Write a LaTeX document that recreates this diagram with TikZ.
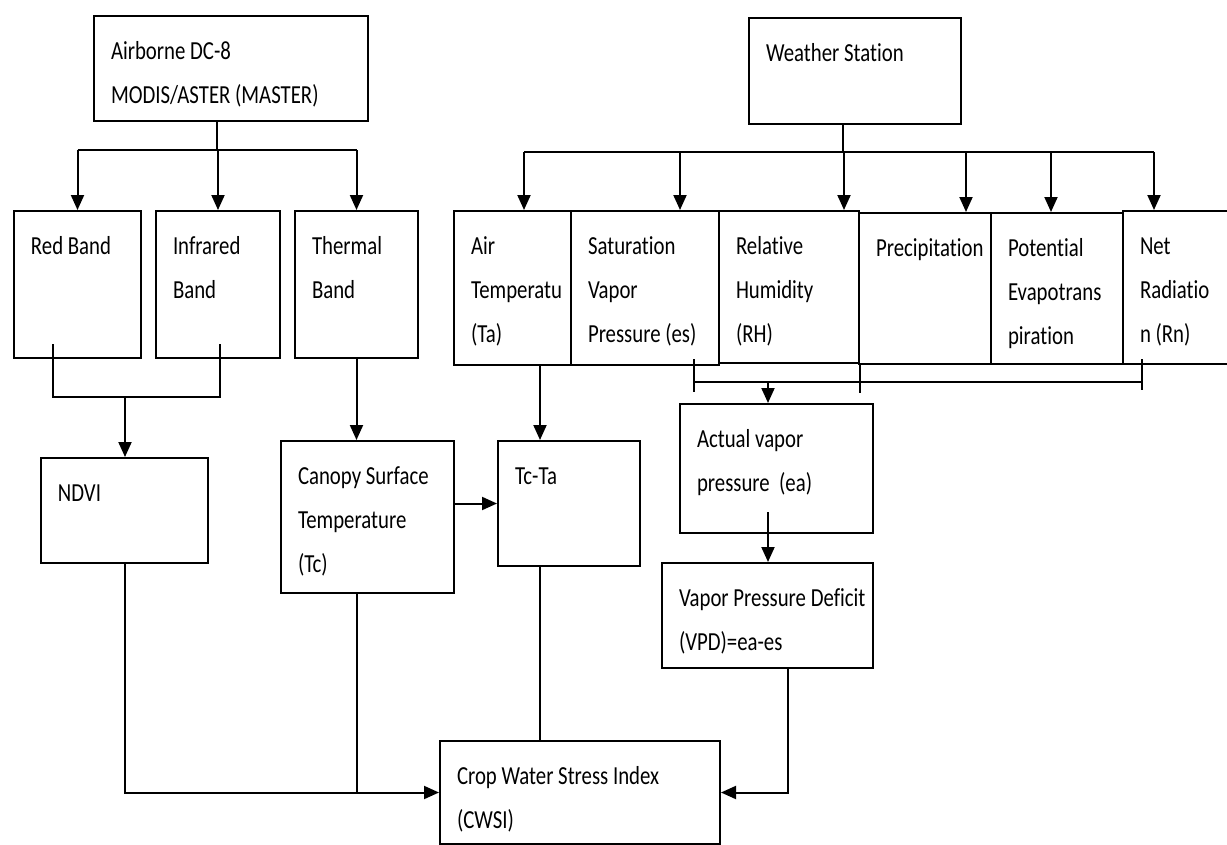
\documentclass[tikz,border=0pt]{standalone}
\usepackage{fontspec}
\setmainfont{Carlito}[FakeStretch=0.8,Ligatures=NoCommon,RawFeature={-liga;-clig;-calt;-dlig;-rlig;-ccmp;-hlig}]
\usetikzlibrary{arrows.meta,calc}
% text set at the top left of a block: width, height, text
\newcommand{\blocktext}[3]{\hspace*{17pt}\parbox[t][#2pt][t]{\dimexpr#1pt-17pt\relax}{\raggedright\rule{0pt}{43pt}#3}}

\begin{document}
\begin{tikzpicture}[
  x=1pt,y=-1pt,
  block/.style={draw,line width=2pt,anchor=north west,inner sep=0pt,
    font={\fontsize{26pt}{44pt}\selectfont}},
  wire/.style={line width=2pt},
  link/.style={-{Triangle[length=15pt,width=13pt]},line width=2pt}
]
\fill[white] (0,0) rectangle (1227,844);
\useasboundingbox (0,0) rectangle (1227,844);

% airborne sensor side
\node[block] (air) at (93,15) {\blocktext{274}{105}{Airborne DC-8\\MODIS/ASTER (MASTER)}};
\node[block] (red) at (13,210) {\blocktext{127}{147}{Red Band}};
\node[block] (ir) at (155,210) {\blocktext{124}{147}{Infrared\\Band}};
\node[block] (thm) at (294,210) {\blocktext{123}{147}{Thermal\\Band}};
\node[block] (ndvi) at (40,457) {\blocktext{167}{105}{NDVI}};
\node[block] (cst) at (280,440) {\blocktext{173}{152}{Canopy Surface\\Temperature\\(Tc)}};
\node[block] (tcta) at (497,440) {\blocktext{142}{125}{Tc-Ta}};
\node[block] (cwsi) at (439,740) {\blocktext{280}{103}{Crop Water Stress Index\\(CWSI)}};

% weather station side
\node[block] (ws) at (748,17) {\blocktext{212}{106}{Weather Station}};
\node[block] (at) at (453,210) {\blocktext{117}{154}{Air\\Temperatu\\(Ta)}};
\node[block] (svp) at (570,210) {\blocktext{148}{154}{Saturation\\Vapor\\Pressure (es)}};
\node[block] (rh) at (718,210) {\blocktext{140}{152}{Relative\\Humidity\\(RH)}};
\node[block] (prc) at (858,212) {\blocktext{132}{151}{Precipitation}};
\node[block] (pet) at (990,212) {\blocktext{132}{151}{Potential\\Evapotrans\\piration}};
\node[block] (rn) at (1122,210) {\blocktext{108}{153}{Net\\Radiatio\\n (Rn)}};
\node[block] (ava) at (679,403) {\blocktext{193}{129}{Actual vapor\\pressure\ \ (ea)}};
\node[block] (vpd) at (661,562) {\blocktext{211}{105}{Vapor Pressure Deficit\\(VPD)=ea-es}};

% junctions
\coordinate (lj) at (217,150);
\coordinate (rj) at (843,152);
\coordinate (bj) at (125,397);
\coordinate (vj) at (768,382);

% airborne branches
\draw[wire] (air.south -| lj) -- (lj);
\draw[wire] (red.north |- lj) -- (thm.north |- lj);
\foreach \n in {red,ir,thm}
  \draw[link] (\n.north |- lj) -- (\n.north);

\coordinate (rdb) at ([xshift=40pt,yshift=15pt]red.south west);
\coordinate (irb) at ([xshift=2pt,yshift=15pt]ir.south);
\draw[wire] (rdb) |- (bj) -| (irb);
\draw[link] (bj) -- (bj |- ndvi.north);
\draw[link] (thm.south) -- (thm.south |- cst.north);
\draw[link] (cst.east |- tcta.west) -- (tcta.west);

% weather branches
\draw[wire] (ws.south -| rj) -- (rj);
\foreach \n/\dx in {at/11.5,svp/35,rh/55,prc/41,pet/-6,rn/-23}
  \coordinate (t\n) at ([xshift=\dx pt]\n.north);
\draw[wire] (tat |- rj) -- (trn |- rj);
\foreach \n in {at,svp,rh,prc,pet,rn}
  \draw[link] (t\n |- rj) -- (t\n);

\coordinate (tab) at ([xshift=87pt]at.south west);
\draw[link] (tab) -- (tab |- tcta.north);

\coordinate (es) at ([xshift=124pt,yshift=7pt]svp.south west);
\coordinate (rnb) at ([xshift=20pt,yshift=6pt]rn.south west);
\draw[wire] (es) -- ++(0,33);
\draw[wire] (rh.south east) -- ++(0,29);
\draw[wire] (rnb) -- ++(0,31);
\draw[wire] (es |- vj) -- (rnb |- vj);
\draw[link] (vj) -- (vj |- ava.north);
\draw[link] ($(vj |- ava.south)+(0,-22)$) -- (vj |- vpd.north);

% into CWSI
\draw[link] (ndvi.south) |- (cwsi.west);
\draw[wire] (thm.south |- cst.south) -- (thm.south |- cwsi.west);
\draw[wire] (tab |- tcta.south) -- (tab |- cwsi.north);
\draw[link] ([xshift=20pt]vpd.south) |- (cwsi.east);
\end{tikzpicture}
\end{document}
